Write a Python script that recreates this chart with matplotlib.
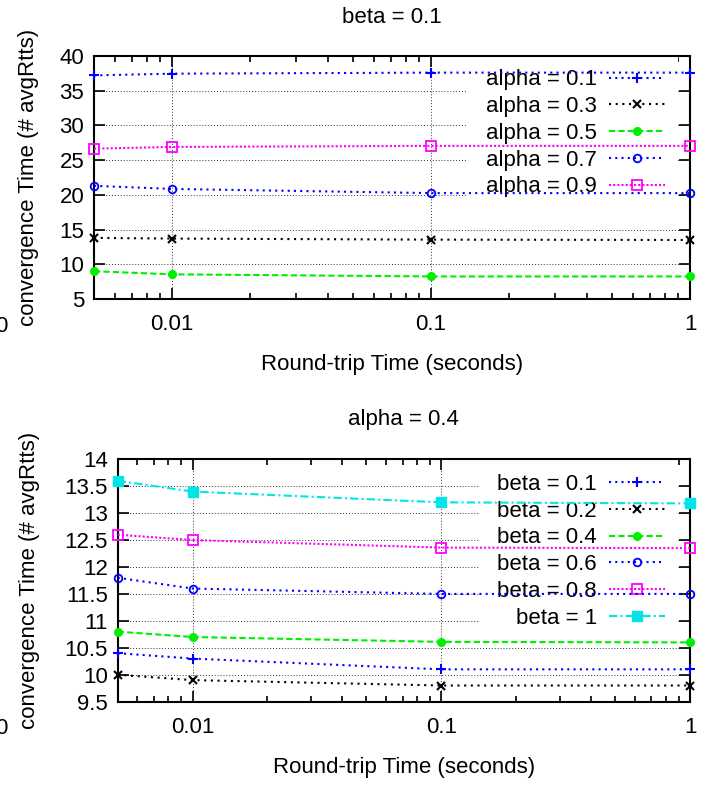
import matplotlib
matplotlib.use('Agg')
import matplotlib.pyplot as plt
from matplotlib.patches import Rectangle
from matplotlib.ticker import FixedLocator, FixedFormatter, LogLocator, NullFormatter, FormatStrFormatter

plt.rcParams.update({'font.family': ['Liberation Sans', 'DejaVu Sans'], 'font.size': 16})

rtt = [0.005, 0.01, 0.1, 1]

# top panel: beta = 0.1, varying alpha
alpha_labels = ['alpha = 0.1', 'alpha = 0.3', 'alpha = 0.5', 'alpha = 0.7', 'alpha = 0.9']
alpha_01 = [37.2, 37.45, 37.6, 37.6]
alpha_03 = [13.8, 13.7, 13.55, 13.5]
alpha_05 = [9.0, 8.55, 8.25, 8.25]
alpha_07 = [21.3, 20.85, 20.25, 20.25]
alpha_09 = [26.65, 26.9, 27.05, 27.05]

# bottom panel: alpha = 0.4, varying beta
beta_labels = ['beta = 0.1', 'beta = 0.2', 'beta = 0.4', 'beta = 0.6', 'beta = 0.8', 'beta = 1']
beta_01 = [10.4, 10.3, 10.1, 10.1]
beta_02 = [10.0, 9.9, 9.8, 9.8]
beta_04 = [10.8, 10.7, 10.61, 10.6]
beta_06 = [11.8, 11.6, 11.5, 11.5]
beta_08 = [12.6, 12.5, 12.36, 12.35]
beta_1 = [13.6, 13.4, 13.2, 13.18]

# gnuplot-ish line styles
styles = [
    dict(color='#0000ff', ls=(0, (1, 2)), marker='+', ms=7, mew=1.5),
    dict(color='black', ls=(0, (1, 2.2)), marker='x', ms=6, mew=1.5),
    dict(color='#00ee00', ls=(0, (3, 1.5)), marker='o', ms=5.5),
    dict(color='#0000ff', ls=(0, (1, 2)), marker='o', ms=5.5, mfc='none', mew=1.3),
    dict(color='#ff00ff', ls=(0, (1, 1)), marker='s', ms=6.5, mfc='none', mew=1.3),
    dict(color='#00e5e5', ls=(0, (4, 1.5, 1, 1.5)), marker='s', ms=6.5),
]


def style_axes(ax, yticks):
    ax.set_xscale('log')
    ax.set_xlim(0.005, 1)
    ax.xaxis.set_major_locator(FixedLocator([0.01, 0.1, 1]))
    ax.xaxis.set_major_formatter(FixedFormatter(['0.01', '0.1', '1']))
    ax.xaxis.set_minor_locator(LogLocator(base=10, subs=range(2, 10)))
    ax.xaxis.set_minor_formatter(NullFormatter())
    ax.set_yticks(yticks)
    ax.yaxis.set_major_formatter(FormatStrFormatter('%g'))
    ax.set_ylim(yticks[0], yticks[-1])
    ax.tick_params(which='both', direction='in', top=True, right=True, width=1.2)
    ax.tick_params(which='major', length=8)
    ax.tick_params(which='minor', length=4)
    ax.tick_params(axis='x', pad=11)
    ax.tick_params(axis='y', pad=7)
    ax.set_axisbelow(True)
    ax.grid(True, which='major', color='#333333', ls=(0, (1, 2)), lw=0.7)
    for s in ax.spines.values():
        s.set_linewidth(1.5)


fig = plt.figure(figsize=(7.16, 7.86), dpi=100)

# ---------- top ----------
ax1 = fig.add_axes([0.1313, 0.6196, 0.8324, 0.3092])
style_axes(ax1, [5, 10, 15, 20, 25, 30, 35, 40])
for vals, lab, st in zip([alpha_01, alpha_03, alpha_05, alpha_07, alpha_09], alpha_labels, styles[:5]):
    ax1.plot(rtt, vals, label=lab, lw=1.5, zorder=3, clip_on=False, **st)
ax1.add_patch(Rectangle((0.626, 0.416), 0.354, 0.584, transform=ax1.transAxes,
                        facecolor='white', edgecolor='none', zorder=1))
leg1 = ax1.legend(loc='upper right', bbox_to_anchor=(0.958, 0.945), frameon=False,
                  markerfirst=False, borderpad=0, borderaxespad=0, handlelength=2.5,
                  handletextpad=0.55, labelspacing=0.26, fontsize=16)
leg1.set_zorder(2)
ax1.text(0.5, 1.16, 'beta = 0.1', transform=ax1.transAxes, ha='center', va='center', fontsize=16)
ax1.set_xlabel('Round-trip Time (seconds)')
ax1.xaxis.set_label_coords(0.5, -0.225)
ax1.set_ylabel('convergence Time (# avgRtts)')
ax1.yaxis.set_label_coords(-0.11, 0.5)
ax1.yaxis.label.set_va('center')

# ---------- bottom ----------
ax2 = fig.add_axes([0.1644, 0.1073, 0.7993, 0.3084])
style_axes(ax2, [9.5, 10, 10.5, 11, 11.5, 12, 12.5, 13, 13.5, 14])
for vals, lab, st in zip([beta_01, beta_02, beta_04, beta_06, beta_08, beta_1], beta_labels, styles):
    ax2.plot(rtt, vals, label=lab, lw=1.5, zorder=3, clip_on=False, **st)
ax2.add_patch(Rectangle((0.631, 0.304), 0.348, 0.696, transform=ax2.transAxes,
                        facecolor='white', edgecolor='none', zorder=1))
leg2 = ax2.legend(loc='upper right', bbox_to_anchor=(0.956, 0.94), frameon=False,
                  markerfirst=False, borderpad=0, borderaxespad=0, handlelength=2.5,
                  handletextpad=0.55, labelspacing=0.26, fontsize=16)
leg2.set_zorder(2)
ax2.text(0.5, 1.162, 'alpha = 0.4', transform=ax2.transAxes, ha='center', va='center', fontsize=16)
ax2.set_xlabel('Round-trip Time (seconds)')
ax2.xaxis.set_label_coords(0.5, -0.23)
ax2.set_ylabel('convergence Time (# avgRtts)')
ax2.yaxis.set_label_coords(-0.155, 0.5)
ax2.yaxis.label.set_va('center')

# leftover cropped tick label at the left edge (as in the source image)
fig.text(7 / 716, 1 - 327 / 786, '0', ha='right', va='center', fontsize=16)
fig.text(7 / 716, 1 - 729 / 786, '0', ha='right', va='center', fontsize=16)

fig.savefig('out.png', dpi=100)
